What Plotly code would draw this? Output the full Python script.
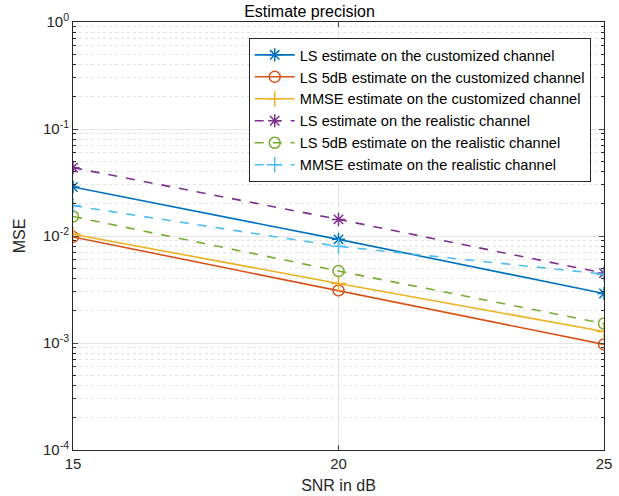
import plotly.graph_objects as go

snr = [15, 20, 25]
ls_custom = [0.0287, 0.0093, 0.0029]
ls5_custom = [0.0098, 0.0031, 0.00097]
mmse_custom = [0.0104, 0.0036, 0.00128]
ls_real = [0.0435, 0.0143, 0.0045]
ls5_real = [0.0152, 0.0047, 0.00152]
mmse_real = [0.0192, 0.0080, 0.0044]

names = ["LS estimate on the customized channel",
         "LS 5dB estimate on the customized channel",
         "MMSE estimate on the customized channel",
         "LS estimate on the realistic channel",
         "LS 5dB estimate on the realistic channel",
         "MMSE estimate on the realistic channel"]
series = [ls_custom, ls5_custom, mmse_custom, ls_real, ls5_real, mmse_real]
colors = ["#0072BD", "#D95319", "#EDB120", "#7E2F8E", "#77AC30", "#4DBEEE"]
symbols = ["asterisk-open", "circle-open", "cross-thin-open",
           "asterisk-open", "circle-open", "cross-thin-open"]
dashes = ["solid", "solid", "solid", "dash", "dash", "dash"]

fig = go.Figure()
for n, s, c, sym, d in zip(names, series, colors, symbols, dashes):
    fig.add_trace(go.Scatter(
        x=snr, y=s, name=n, mode="lines+markers",
        line=dict(color=c, width=1.6, dash=d),
        marker=dict(symbol=sym, size=11, color=c, line=dict(color=c, width=1.5)),
    ))

ytick_vals = [1e-4, 1e-3, 1e-2, 1e-1, 1]
ytick_text = ["10<sup>-4</sup>", "10<sup>-3</sup>", "10<sup>-2</sup>", "10<sup>-1</sup>", "10<sup>0</sup>"]
xtick_vals = [15, 20, 25]

axis_font = dict(family="Liberation Sans, Arial, sans-serif", size=15, color="#262626")

fig.update_layout(
    width=619, height=496,
    margin=dict(l=73, r=15, t=22, b=46),
    paper_bgcolor="white", plot_bgcolor="white",
    font=dict(family="Liberation Sans, Arial, sans-serif", color="#262626"),
    title=dict(text="Estimate precision", x=0.5, xanchor="center", y=0.988, yanchor="top",
               font=dict(size=16, color="#000000")),
    showlegend=True,
    legend=dict(x=0.975, y=0.963, xanchor="right", yanchor="top",
                bgcolor="white", bordercolor="#262626", borderwidth=1,
                font=dict(size=14.6, color="#000000"), tracegroupgap=0,
                itemwidth=40),
    xaxis=dict(range=[15, 25], tickvals=xtick_vals, ticks="inside", ticklen=5,
               showline=True, linecolor="#262626", linewidth=1, mirror="ticks",
               showgrid=True, gridcolor="#e6e6e6", gridwidth=1, zeroline=False,
               tickfont=axis_font, automargin=False,
               title=dict(text="SNR in dB", font=dict(size=16, color="#262626"), standoff=8)),
    yaxis=dict(type="log", range=[-4, 0], tickvals=ytick_vals, ticktext=ytick_text,
               ticks="inside", ticklen=5, automargin=False,
               showline=True, linecolor="#262626", linewidth=1, mirror="ticks",
               showgrid=True, gridcolor="#e6e6e6", gridwidth=1, zeroline=False,
               tickfont=axis_font,
               minor=dict(dtick="D1", showgrid=True, gridcolor="#e3e3e3", griddash="dot",
                          ticks="inside", ticklen=3, tickcolor="#262626"),
               title=dict(text="MSE", font=dict(size=16, color="#262626"), standoff=13)),
)

fig.write_html("out.html")
